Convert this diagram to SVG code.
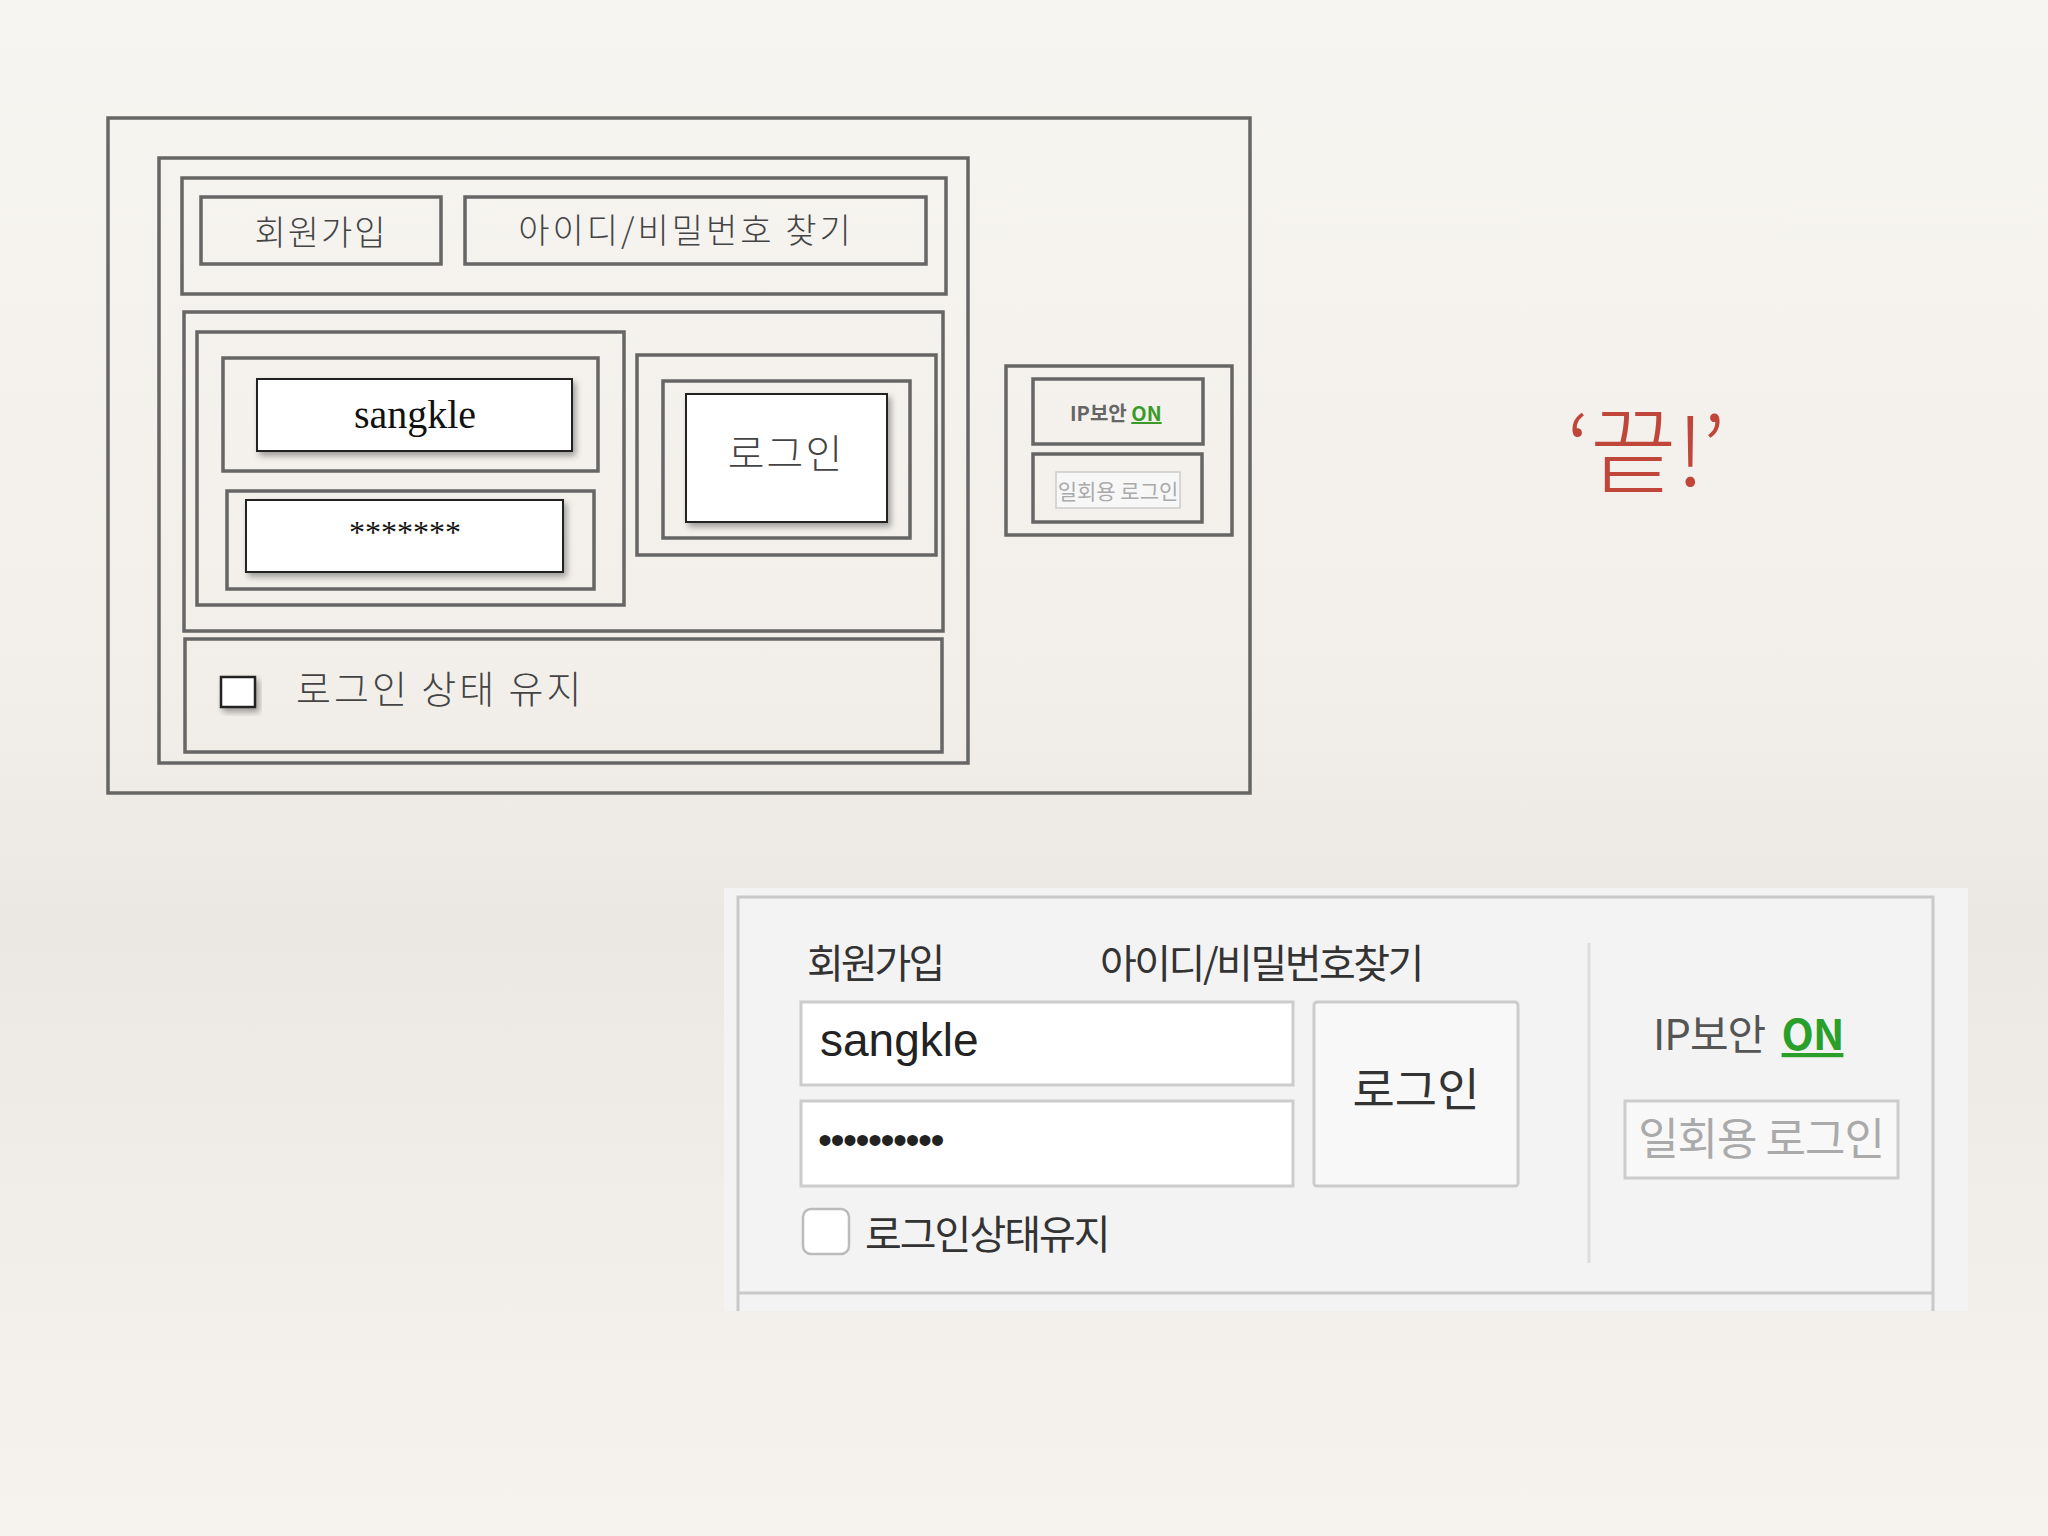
<svg xmlns="http://www.w3.org/2000/svg" width="2048" height="1536" viewBox="0 0 2048 1536">
<defs>
<linearGradient id="bg" x1="0" y1="0" x2="0" y2="1">
<stop offset="0" stop-color="#f7f5f1"/><stop offset="0.45" stop-color="#f2efeb"/><stop offset="0.6" stop-color="#ebe8e4"/><stop offset="0.8" stop-color="#f1eeea"/><stop offset="1" stop-color="#f6f3ef"/>
</linearGradient>
<filter id="sh" x="-10%" y="-10%" width="130%" height="140%"><feDropShadow dx="3" dy="4" stdDeviation="3" flood-color="#000" flood-opacity="0.35"/></filter>
<style>
.f{fill:none;stroke:#666;stroke-width:3.5}
.w{fill:#fff;stroke:#222;stroke-width:2;filter:url(#sh)}
.k{font-family:"Noto Sans CJK KR","Noto Sans",sans-serif;fill:#444}
.s{font-family:"Liberation Serif",serif;fill:#111}
.r{font-family:"Noto Sans CJK KR",sans-serif;fill:#333}
</style>
</defs>
<rect width="2048" height="1536" fill="url(#bg)"/>
<g id="sketch">
<rect class="f" x="108" y="118" width="1142" height="675"/>
<rect class="f" x="159" y="158" width="809" height="605"/>
<rect class="f" x="182" y="178" width="764" height="116"/>
<g id="join"><rect class="f" x="201" y="197" width="240" height="67"/><text class="k" x="321" y="245" font-size="34" text-anchor="middle" font-weight="300" letter-spacing="2">회원가입</text></g>
<g id="find"><rect class="f" x="465" y="197" width="461" height="67"/><text class="k" x="686" y="243" font-size="34" text-anchor="middle" font-weight="300" letter-spacing="3">아이디/비밀번호 찾기</text></g>
<rect class="f" x="184" y="312" width="759" height="319"/>
<rect class="f" x="197" y="332" width="427" height="273"/>
<rect class="f" x="223" y="358" width="375" height="113"/>
<g id="id"><rect class="w" x="257" y="379" width="315" height="72"/><text class="s" x="415" y="428" font-size="40" text-anchor="middle">sangkle</text></g>
<rect class="f" x="227" y="491" width="367" height="98"/>
<g id="pw"><rect class="w" x="246" y="500" width="317" height="72"/><text class="s" x="405" y="543" font-size="32" text-anchor="middle">*******</text></g>
<rect class="f" x="637" y="355" width="299" height="200"/>
<rect class="f" x="663" y="381" width="247" height="157"/>
<g id="login"><rect class="w" x="686" y="394" width="201" height="128"/><text class="k" x="786" y="468" font-size="40" text-anchor="middle" font-weight="300" fill="#222" letter-spacing="2">로그인</text></g>
<rect class="f" x="185" y="639" width="757" height="113"/>
<g id="keep"><rect x="221" y="677" width="34" height="30" fill="#fff" stroke="#222" stroke-width="2.5" filter="url(#sh)"/><text class="k" x="296" y="703" font-size="38" font-weight="300" letter-spacing="3">로그인 상태 유지</text></g>
<rect class="f" x="1006" y="366" width="226" height="169"/>
<g id="ipsec"><rect class="f" x="1033" y="379" width="170" height="65" fill="#f3f2f0"/><text x="1070" y="421" font-size="20" font-family="Noto Sans CJK KR,sans-serif" fill="#666" font-weight="bold">IP보안 <tspan fill="#3a9a2a" text-decoration="underline">ON</tspan></text></g>
<g id="otp"><rect class="f" x="1033" y="454" width="169" height="68"/><rect x="1056" y="472" width="124" height="36" fill="#f7f7f7" stroke="#ccc" stroke-width="1.5"/><text x="1118" y="499" font-size="21" text-anchor="middle" font-family="Noto Sans CJK KR,sans-serif" fill="#aaa">일회용 로그인</text></g>
</g>
<text x="1646" y="486" font-size="94" text-anchor="middle" font-family="Noto Sans CJK KR,serif" fill="#c0463a" font-weight="300">‘끝!’</text>
<g id="screenshot">
<rect x="724" y="888" width="1244" height="423" fill="#f3f3f3"/>
<path d="M738 1311 V897 H1933 V1311" fill="none" stroke="#c9c9c9" stroke-width="3"/>
<line x1="738" y1="1293" x2="1933" y2="1293" stroke="#c9c9c9" stroke-width="3"/>
<text class="r" x="807" y="978" font-size="40" letter-spacing="-3">회원가입</text>
<text class="r" x="1100" y="978" font-size="40" letter-spacing="-2.5">아이디/비밀번호찾기</text>
<rect x="801" y="1002" width="492" height="83" fill="#fff" stroke="#ccc" stroke-width="3"/>
<text x="820" y="1056" font-size="46" font-family="Liberation Sans,sans-serif" fill="#222">sangkle</text>
<rect x="801" y="1101" width="492" height="85" fill="#fff" stroke="#ccc" stroke-width="3"/>
<text x="818" y="1154" font-size="40" font-family="Liberation Sans,sans-serif" fill="#222" letter-spacing="-1.5">••••••••••</text>
<rect x="1314" y="1002" width="204" height="184" fill="#f8f8f8" stroke="#ccc" stroke-width="3" rx="3"/>
<text class="r" x="1416" y="1106" font-size="46" text-anchor="middle" fill="#555">로그인</text>
<rect x="803" y="1209" width="46" height="45" rx="8" fill="#fff" stroke="#bbb" stroke-width="2.5"/>
<text class="r" x="865" y="1249" font-size="40" letter-spacing="-2">로그인상태유지</text>
<line x1="1589" y1="943" x2="1589" y2="1263" stroke="#ddd" stroke-width="3"/>
<text x="1653" y="1050" font-size="42" font-family="Noto Sans CJK KR,sans-serif" fill="#555" letter-spacing="-1">IP보안 <tspan dx="8" fill="#2aa02a" font-weight="bold" text-decoration="underline">ON</tspan></text>
<rect x="1625" y="1101" width="273" height="77" fill="#f8f8f8" stroke="#ccc" stroke-width="3"/>
<text x="1761" y="1155" font-size="44" text-anchor="middle" font-family="Noto Sans CJK KR,sans-serif" fill="#aaa" letter-spacing="-1">일회용 로그인</text>
</g>
</svg>
